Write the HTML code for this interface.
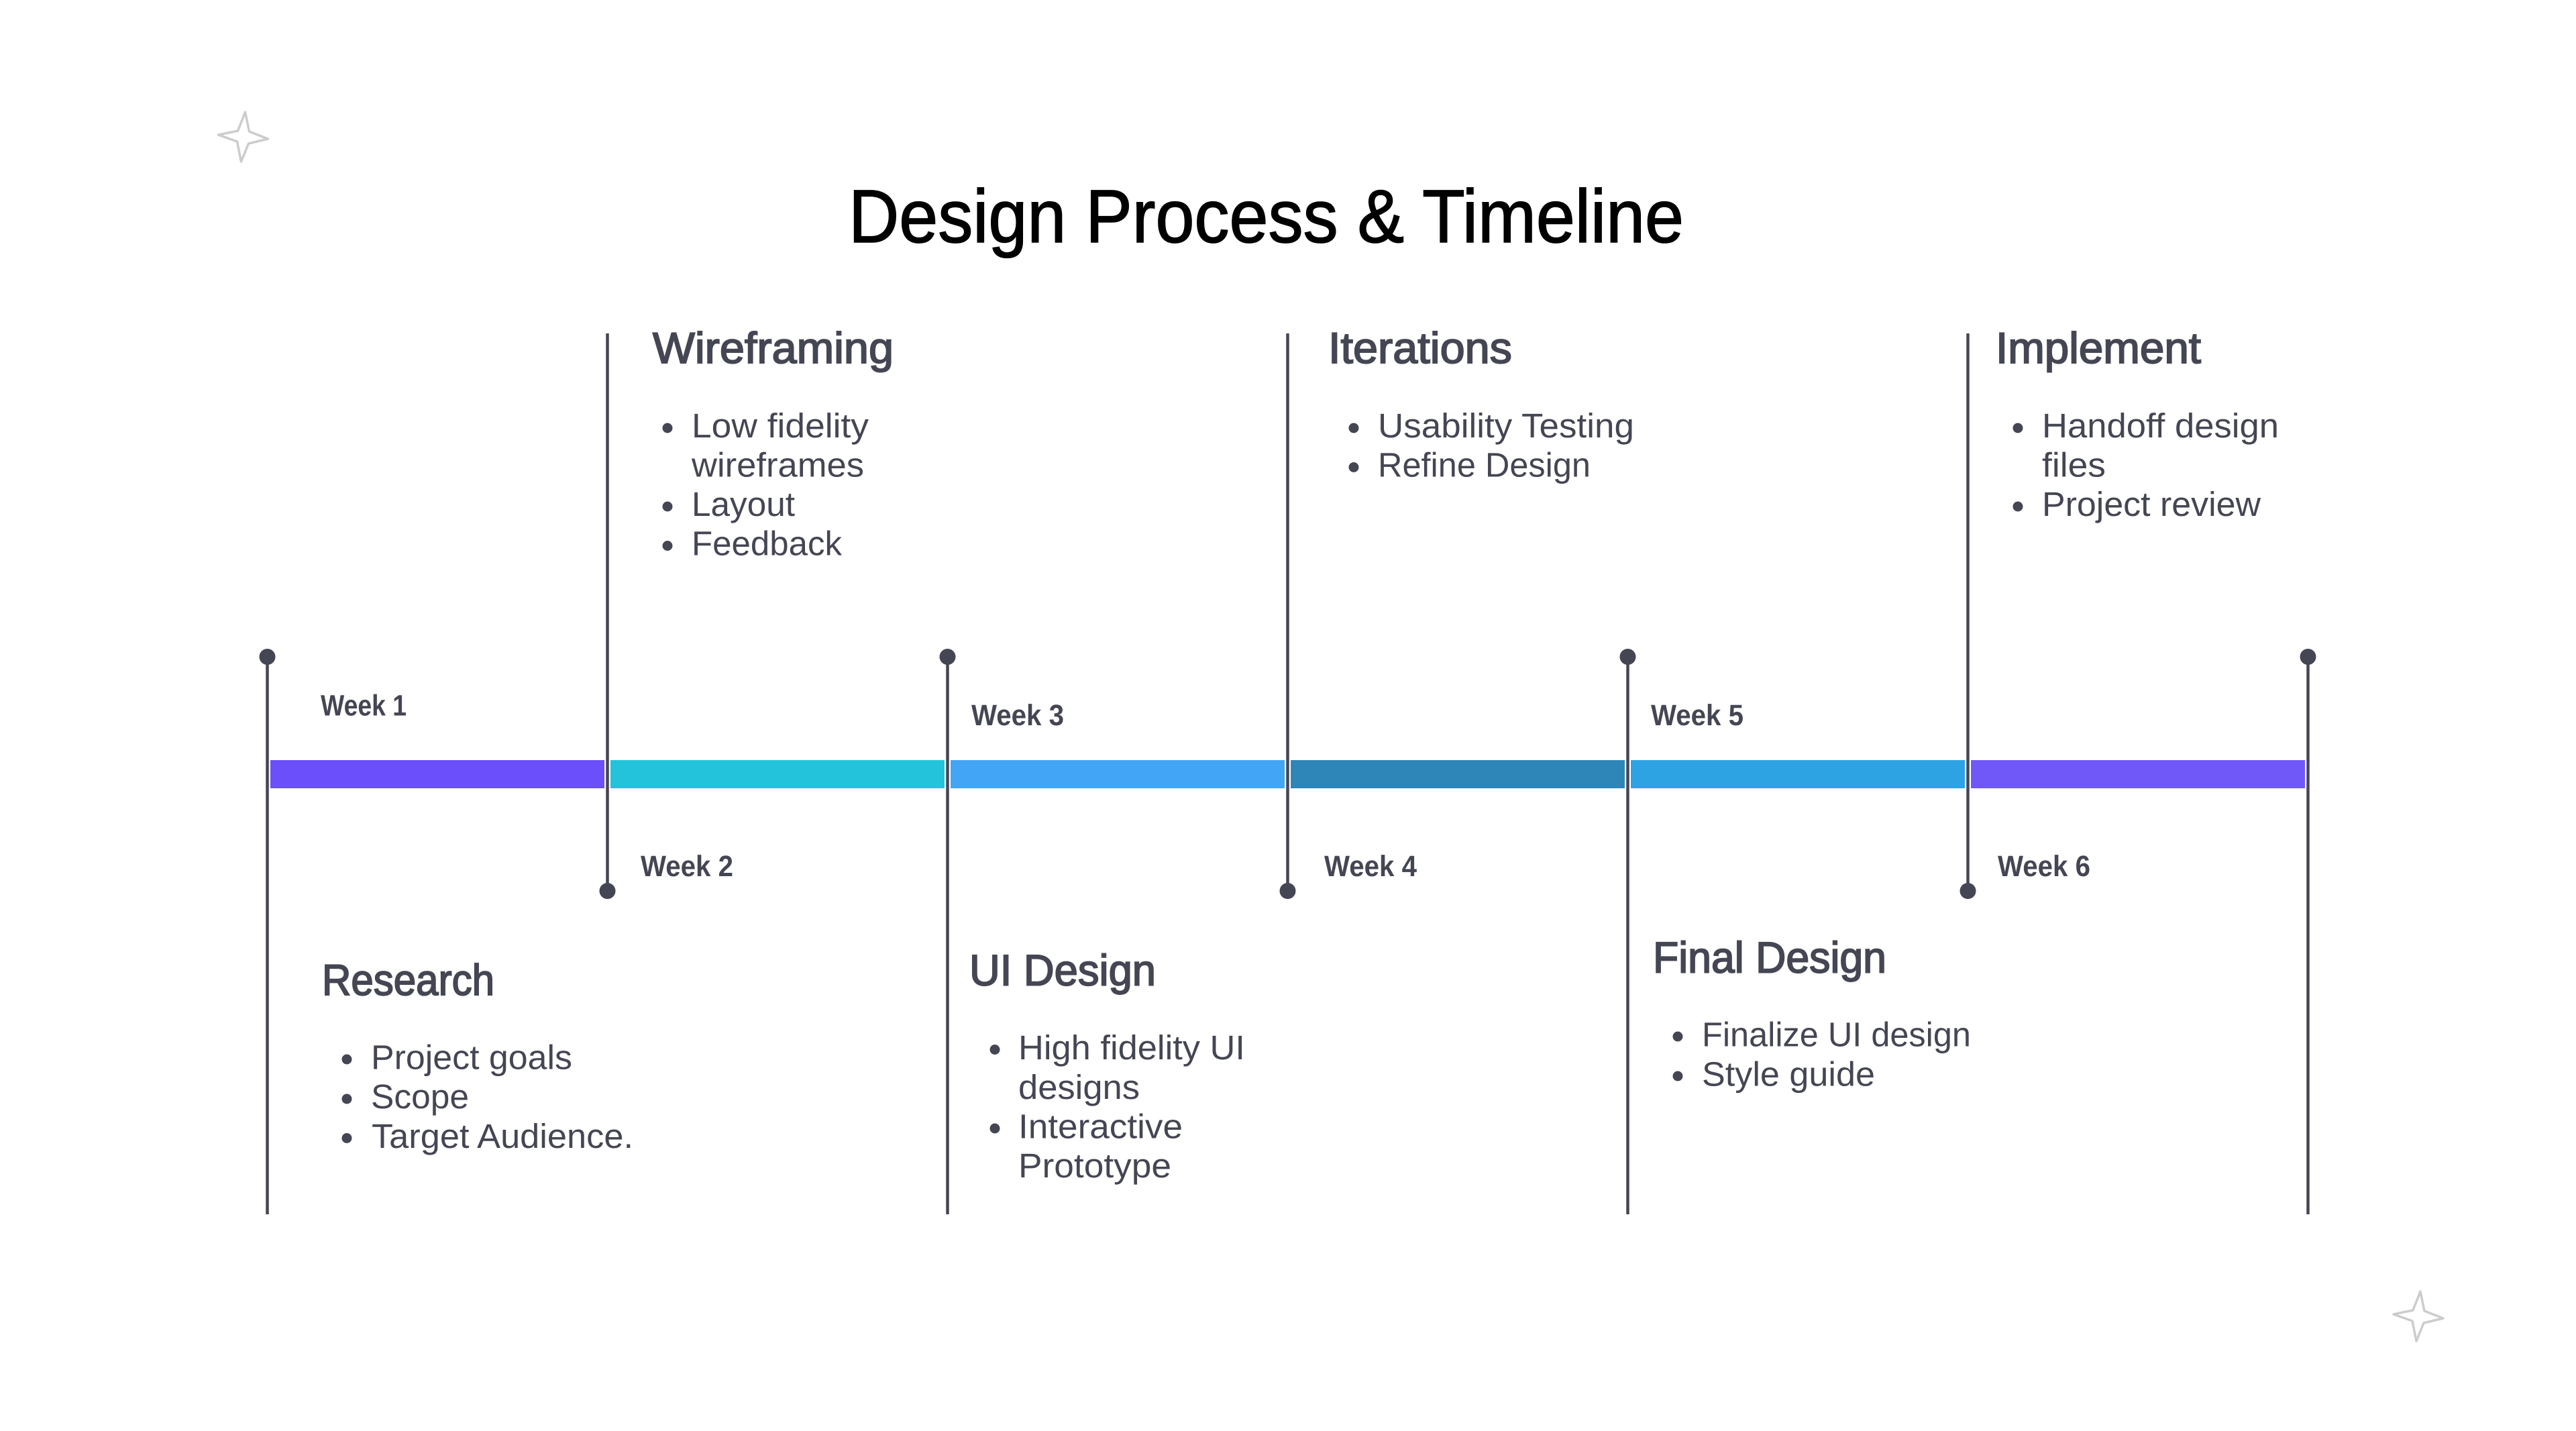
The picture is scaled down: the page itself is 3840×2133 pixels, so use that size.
<!DOCTYPE html>
<html lang="en">
<head>
<meta charset="utf-8">
<title>Design Process &amp; Timeline</title>
<style>
html,body{margin:0;padding:0;background:#fff;width:3840px;height:2133px;overflow:hidden}
svg{display:block}
text{font-family:"Liberation Sans",sans-serif;fill:#454653;text-rendering:geometricPrecision}
.t{font-size:112px;fill:#000;stroke:#000;stroke-width:1.6px}
.h{font-size:65px;stroke:#454653;stroke-width:1.9px}
.l{font-size:51px}
.w{font-size:44px;font-weight:bold}
</style>
</head>
<body>
<svg xmlns="http://www.w3.org/2000/svg" width="3840" height="2133" viewBox="0 0 3840 2133">
<rect width="3840" height="2133" fill="#fff"/>

<!-- stars -->
<g fill="none" stroke="#cccccc" stroke-width="3.5" stroke-linejoin="round">
<path d="M3608 1925L3614 1954L3642 1965L3613 1972L3602 1999L3596 1969L3568 1959L3597 1953Z"/>
<path d="M3608 1925L3614 1954L3642 1965L3613 1972L3602 1999L3596 1969L3568 1959L3597 1953Z" transform="translate(-3242.5 -1758)"/>
</g>

<!-- title -->
<text class="t" x="1265" y="361" textLength="1245" lengthAdjust="spacingAndGlyphs">Design Process &amp; Timeline</text>

<!-- bars -->
<rect x="403" y="1133" width="498" height="42" fill="#6A4FFB"/>
<rect x="910" y="1133" width="498" height="42" fill="#22C3DB"/>
<rect x="1417" y="1133" width="498" height="42" fill="#42A5F5"/>
<rect x="1924" y="1133" width="498" height="42" fill="#2E86B8"/>
<rect x="2431" y="1133" width="498" height="42" fill="#2EA3E3"/>
<rect x="2938" y="1133" width="498" height="42" fill="#7058F8"/>

<!-- vertical lines -->
<g stroke="#454653" stroke-width="4.5">
<line x1="398.5" y1="979" x2="398.5" y2="1810"/>
<line x1="1412.5" y1="979" x2="1412.5" y2="1810"/>
<line x1="2426.5" y1="979" x2="2426.5" y2="1810"/>
<line x1="3440.5" y1="979" x2="3440.5" y2="1810"/>
<line x1="905.5" y1="497" x2="905.5" y2="1328"/>
<line x1="1919.5" y1="497" x2="1919.5" y2="1328"/>
<line x1="2933.5" y1="497" x2="2933.5" y2="1328"/>
</g>
<g fill="#454653">
<circle cx="398.5" cy="979" r="12"/>
<circle cx="1412.5" cy="979" r="12"/>
<circle cx="2426.5" cy="979" r="12"/>
<circle cx="3440.5" cy="979" r="12"/>
<circle cx="905.5" cy="1328" r="12"/>
<circle cx="1919.5" cy="1328" r="12"/>
<circle cx="2933.5" cy="1328" r="12"/>
</g>

<!-- week labels -->
<text class="w" x="478" y="1066.5" textLength="128" lengthAdjust="spacingAndGlyphs">Week 1</text>
<text class="w" x="955" y="1306" textLength="138" lengthAdjust="spacingAndGlyphs">Week 2</text>
<text class="w" x="1448" y="1081" textLength="138" lengthAdjust="spacingAndGlyphs">Week 3</text>
<text class="w" x="1974" y="1306" textLength="138" lengthAdjust="spacingAndGlyphs">Week 4</text>
<text class="w" x="2461" y="1081" textLength="138" lengthAdjust="spacingAndGlyphs">Week 5</text>
<text class="w" x="2978" y="1306" textLength="138" lengthAdjust="spacingAndGlyphs">Week 6</text>

<!-- headings -->
<text class="h" x="973" y="541" textLength="359" lengthAdjust="spacingAndGlyphs">Wireframing</text>
<text class="h" x="1980" y="541" textLength="274" lengthAdjust="spacingAndGlyphs">Iterations</text>
<text class="h" x="2975" y="541" textLength="306" lengthAdjust="spacingAndGlyphs">Implement</text>
<text class="h" x="480" y="1483" textLength="257" lengthAdjust="spacingAndGlyphs">Research</text>
<text class="h" x="1445" y="1468.7" textLength="278" lengthAdjust="spacingAndGlyphs">UI Design</text>
<text class="h" x="2464" y="1449.3" textLength="348" lengthAdjust="spacingAndGlyphs">Final Design</text>

<!-- lists -->
<g fill="#454653">
<circle cx="995" cy="638" r="7.5"/><circle cx="995" cy="755" r="7.5"/><circle cx="995" cy="813.5" r="7.5"/>
<circle cx="2018" cy="638" r="7.5"/><circle cx="2018" cy="696.5" r="7.5"/>
<circle cx="3008" cy="638" r="7.5"/><circle cx="3008" cy="755" r="7.5"/>
<circle cx="517" cy="1579" r="7.5"/><circle cx="517" cy="1638" r="7.5"/><circle cx="517" cy="1696.5" r="7.5"/>
<circle cx="1483" cy="1564.5" r="7.5"/><circle cx="1483" cy="1682" r="7.5"/>
<circle cx="2501" cy="1545" r="7.5"/><circle cx="2501" cy="1604" r="7.5"/>
</g>
<text class="l" x="1031" y="652" textLength="264" lengthAdjust="spacingAndGlyphs">Low fidelity</text>
<text class="l" x="1031" y="710.5" textLength="257" lengthAdjust="spacingAndGlyphs">wireframes</text>
<text class="l" x="1031" y="769" textLength="154" lengthAdjust="spacingAndGlyphs">Layout</text>
<text class="l" x="1031" y="827.7" textLength="224" lengthAdjust="spacingAndGlyphs">Feedback</text>

<text class="l" x="2054" y="652" textLength="382" lengthAdjust="spacingAndGlyphs">Usability Testing</text>
<text class="l" x="2054" y="710.5" textLength="317" lengthAdjust="spacingAndGlyphs">Refine Design</text>

<text class="l" x="3044" y="652" textLength="353" lengthAdjust="spacingAndGlyphs">Handoff design</text>
<text class="l" x="3044" y="710.5" textLength="95" lengthAdjust="spacingAndGlyphs">files</text>
<text class="l" x="3044" y="769" textLength="326" lengthAdjust="spacingAndGlyphs">Project review</text>

<text class="l" x="553" y="1593.5" textLength="300" lengthAdjust="spacingAndGlyphs">Project goals</text>
<text class="l" x="553" y="1652" textLength="146" lengthAdjust="spacingAndGlyphs">Scope</text>
<text class="l" x="554" y="1711" textLength="390" lengthAdjust="spacingAndGlyphs">Target Audience.</text>

<text class="l" x="1518" y="1579" textLength="338" lengthAdjust="spacingAndGlyphs">High fidelity UI</text>
<text class="l" x="1518" y="1638" textLength="181" lengthAdjust="spacingAndGlyphs">designs</text>
<text class="l" x="1518" y="1696.5" textLength="245" lengthAdjust="spacingAndGlyphs">Interactive</text>
<text class="l" x="1518" y="1755" textLength="228" lengthAdjust="spacingAndGlyphs">Prototype</text>

<text class="l" x="2537" y="1559.7" textLength="401" lengthAdjust="spacingAndGlyphs">Finalize UI design</text>
<text class="l" x="2537" y="1618.5" textLength="258" lengthAdjust="spacingAndGlyphs">Style guide</text>
</svg>
</body>
</html>
